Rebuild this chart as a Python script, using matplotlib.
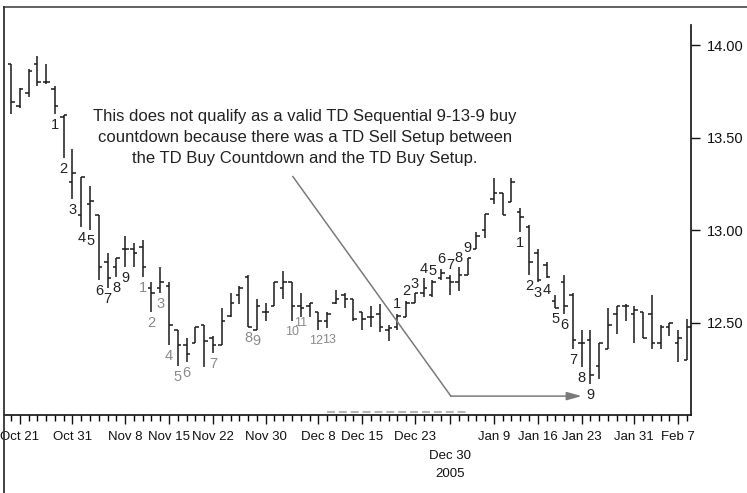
import matplotlib
matplotlib.use("Agg")
import matplotlib.pyplot as plt
from matplotlib.lines import Line2D

plt.rcParams['font.family'] = ['Liberation Sans', 'DejaVu Sans']

# daily bars, Oct 2005 - Feb 2006
opens = [13.90, 13.67, 13.74, 13.90, 13.80, 13.76, 13.61, 13.26, 13.08, 13.14,
         13.08, 12.83, 12.80, 12.90, 12.90, 12.91, 12.69, 12.69, 12.70, 12.46,
         12.38, 12.39, 12.49, 12.42, 12.38, 12.54, 12.65, 12.75, 12.46, 12.56,
         12.59, 12.69, 12.72, 12.59, 12.59, 12.56, 12.51, 12.61, 12.65, 12.63,
         12.56, 12.53, 12.55, 12.46, 12.48, 12.53, 12.61, 12.66, 12.65, 12.74,
         12.74, 12.72, 12.76, 12.90, 13.00, 13.17, 13.20, 13.15, 13.10, 13.02,
         12.88, 12.81, 12.62, 12.72, 12.65, 12.39, 12.41, 12.27, 12.36, 12.55,
         12.59, 12.55, 12.56, 12.55, 12.39, 12.48, 12.39, 12.30]
highs = [13.90, 13.77, 13.87, 13.94, 13.90, 13.78, 13.62, 13.44, 13.29, 13.24,
         13.08, 12.88, 12.85, 12.97, 12.93, 12.95, 12.72, 12.80, 12.72, 12.46,
         12.42, 12.48, 12.49, 12.43, 12.58, 12.66, 12.70, 12.76, 12.63, 12.61,
         12.72, 12.78, 12.72, 12.66, 12.61, 12.56, 12.56, 12.68, 12.66, 12.63,
         12.56, 12.59, 12.60, 12.49, 12.55, 12.62, 12.66, 12.74, 12.73, 12.79,
         12.76, 12.80, 12.85, 12.99, 13.09, 13.28, 13.20, 13.28, 13.12, 13.03,
         12.90, 12.83, 12.65, 12.76, 12.66, 12.46, 12.46, 12.39, 12.58, 12.59,
         12.60, 12.59, 12.56, 12.65, 12.49, 12.50, 12.46, 12.52]
lows = [13.63, 13.66, 13.72, 13.78, 13.79, 13.63, 13.39, 13.17, 13.02, 13.00,
        12.73, 12.69, 12.75, 12.80, 12.80, 12.75, 12.56, 12.66, 12.38, 12.27,
        12.29, 12.39, 12.26, 12.34, 12.38, 12.53, 12.60, 12.48, 12.46, 12.51,
        12.59, 12.63, 12.51, 12.53, 12.53, 12.46, 12.47, 12.60, 12.58, 12.51,
        12.46, 12.48, 12.45, 12.40, 12.46, 12.53, 12.61, 12.64, 12.64, 12.73,
        12.65, 12.67, 12.76, 12.90, 12.96, 13.14, 13.08, 13.15, 12.99, 12.76,
        12.72, 12.74, 12.58, 12.55, 12.36, 12.26, 12.17, 12.20, 12.36, 12.44,
        12.51, 12.39, 12.42, 12.36, 12.36, 12.43, 12.29, 12.30]
closes = [13.69, 13.76, 13.86, 13.80, 13.80, 13.67, 13.62, 13.31, 13.29, 13.16,
          12.80, 12.74, 12.85, 12.90, 12.88, 12.80, 12.66, 12.72, 12.49, 12.38,
          12.33, 12.48, 12.40, 12.38, 12.51, 12.61, 12.69, 12.48, 12.59, 12.56,
          12.72, 12.72, 12.59, 12.58, 12.61, 12.51, 12.55, 12.63, 12.63, 12.52,
          12.52, 12.53, 12.48, 12.47, 12.54, 12.61, 12.66, 12.69, 12.72, 12.77,
          12.72, 12.76, 12.85, 12.97, 13.09, 13.20, 13.08, 13.26, 13.07, 12.83,
          12.73, 12.75, 12.58, 12.59, 12.41, 12.39, 12.22, 12.39, 12.49, 12.59,
          12.59, 12.57, 12.42, 12.39, 12.48, 12.50, 12.42, 12.48]

date_ticks = [1, 7, 13, 18, 23, 29, 35, 40, 46, 50, 55, 60, 65, 71, 76]
date_labels = ["Oct 21", "Oct 31", "Nov 8", "Nov 15", "Nov 22", "Nov 30", "Dec 8",
               "Dec 15", "Dec 23", "", "Jan 9", "Jan 16", "Jan 23",
               "Jan 31", "Feb 7"]
year_label = (50, "Dec 30\n2005")
price_ticks = [12.5, 13.0, 13.5, 14.0]

# TD counts: bar index of each number
buy_setup1 = [5, 6, 7, 8, 9, 10, 11, 12, 13]
buy_countdown = [15, 16, 17, 18, 19, 20, 23, 27, 28, 32, 33, 35, 36]
sell_setup = [44, 45, 46, 47, 48, 49, 50, 51, 52]
buy_setup2 = [58, 59, 60, 61, 62, 63, 64, 65, 66]

note = ("This does not qualify as a valid TD Sequential 9-13-9 buy\n"
        "countdown because there was a TD Sell Setup between\n"
        "the TD Buy Countdown and the TD Buy Setup.")
note_pos = (33.5, 13.50)
arrow_path = [(32.1, 13.29), (50.1, 12.105), (65.0, 12.105)]
dash_span = (36, 52, 12.02)

fig = plt.figure(figsize=(7.47, 4.93), dpi=100)
ax = fig.add_axes([4 / 747, (493 - 415) / 493, 687 / 747, 390 / 493])

n = len(opens)
idx = list(range(n))
bar_col = '#1a1a1a'
w = 0.4
ax.vlines(idx, lows, highs, color=bar_col, lw=1.1)
ax.hlines(opens, [i - w for i in idx], idx, color=bar_col, lw=1.1)
ax.hlines(closes, idx, [i + w for i in idx], color=bar_col, lw=1.1)


def put_counts(bars, col, above=False):
    for k, b in enumerate(bars):
        txt = str(k + 1)
        dx = 0
        dy = 7 if above else -8
        size = 10.5
        if len(txt) > 1:
            size = 9
            if k + 1 == 11:
                dy = -4
            elif k + 1 == 12:
                dx = -1.5
            elif k + 1 == 13:
                dx = 1.5
        y = highs[b] if above else lows[b]
        ax.annotate(txt, (b, y), xytext=(dx, dy), textcoords='offset points',
                    ha='center', va='center', fontsize=size, color=col)


put_counts(buy_setup1, '#222222')
put_counts(buy_countdown, '#8a8a8a')
put_counts(sell_setup, '#222222', above=True)
put_counts(buy_setup2, '#222222')

ax.text(note_pos[0], note_pos[1], note, ha='center', va='center', fontsize=12,
        color='#222222', linespacing=1.5)
xs = [p[0] for p in arrow_path]
ys = [p[1] for p in arrow_path]
ax.plot(xs[:2], ys[:2], color='#7a7a7a', lw=1.1)
ax.annotate('', xy=arrow_path[2], xytext=arrow_path[1],
            arrowprops=dict(arrowstyle='-|>,head_length=0.9,head_width=0.25',
                            color='#7a7a7a', lw=1.1, shrinkA=0, shrinkB=0))
ax.plot([dash_span[0], dash_span[1]], [dash_span[2], dash_span[2]], color='#b5b5b5',
        lw=1.5, dashes=(3.8, 1.9))

ax.set_xlim(-0.8, 77.45)
ax.set_ylim(12.003, 14.108)

for s in ['left', 'top']:
    ax.spines[s].set_visible(False)
ax.spines['right'].set_color('#111111')
ax.spines['bottom'].set_color('#111111')
ax.spines['right'].set_linewidth(1.2)
ax.spines['bottom'].set_linewidth(1.2)

ax.yaxis.tick_right()
ax.set_yticks(price_ticks)
ax.set_yticklabels(["%.2f" % p for p in price_ticks])
ax.tick_params(axis='y', direction='out', length=6.5, width=1, pad=5,
               labelsize=10.5, colors='#111111')
ax.set_xticks(date_ticks)
ax.set_xticklabels(date_labels)
ax.set_xticks(idx, minor=True)
ax.tick_params(axis='x', which='major', direction='out', length=6.5, width=1, pad=5,
               labelsize=9.5, colors='#111111')
ax.tick_params(axis='x', which='minor', direction='out', length=4, width=1)

# second-row date with the year under it
ax.annotate(year_label[1], xy=(year_label[0], 0), xycoords=('data', 'axes fraction'),
            xytext=(0, -25.5), textcoords='offset points', ha='center', va='top',
            fontsize=9.5, color='#111111', linespacing=1.6)

# outer frame lines
fig.add_artist(Line2D([4 / 747, 1], [1 - 7 / 493, 1 - 7 / 493], color='#555555', lw=1.3))
fig.add_artist(Line2D([4 / 747, 4 / 747], [0, 1 - 7 / 493], color='#333333', lw=1.3))

fig.savefig("out.png", dpi=100)
